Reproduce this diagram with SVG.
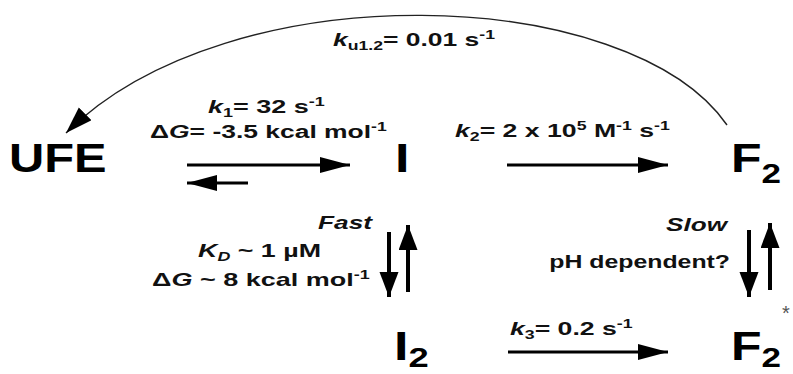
<svg xmlns="http://www.w3.org/2000/svg" width="793" height="374" viewBox="0 0 793 374">
<style>
.s{font-family:"Liberation Sans",Arial,sans-serif;font-weight:bold;font-size:18px;fill:#111}
.b{font-family:"Liberation Sans",Arial,sans-serif;font-weight:bold;font-size:40px;fill:#000}
.i{font-style:italic}
.ln{stroke:#000;stroke-width:3;fill:none}
.lv{stroke:#000;stroke-width:4;fill:none}
.arc{stroke:#222;stroke-width:1.4;fill:none}
</style>
<defs>
<marker id="ah" markerUnits="userSpaceOnUse" markerWidth="32" markerHeight="18" refX="30" refY="8" orient="auto"><path d="M0,0 L30,8 L0,16 z" fill="#000"/></marker>
<marker id="av" markerUnits="userSpaceOnUse" markerWidth="27" markerHeight="20" refX="25" refY="9.5" orient="auto"><path d="M0,0 L25,9.5 L0,19 z" fill="#000"/></marker>
<marker id="aa" markerUnits="userSpaceOnUse" markerWidth="30" markerHeight="20" refX="27" refY="9" orient="auto"><path d="M0,0 L27,9 L0,18 z" fill="#000"/></marker>
</defs>
<g id="connectors">
<path class="arc" d="M727,125 C630,-15 230,-30 66,133" marker-end="url(#aa)"/>
<line class="ln" x1="187" y1="165" x2="350" y2="165" marker-end="url(#ah)"/>
<line class="ln" x1="248" y1="183" x2="187" y2="183" marker-end="url(#ah)"/>
<line class="ln" x1="507" y1="165" x2="668" y2="165" marker-end="url(#ah)"/>
<line class="ln" x1="508" y1="352" x2="668" y2="352" marker-end="url(#ah)"/>
<line class="lv" x1="389" y1="232" x2="389" y2="297" marker-end="url(#av)"/>
<line class="lv" x1="408" y1="292" x2="408" y2="225" marker-end="url(#av)"/>
<line class="lv" x1="749" y1="230" x2="749" y2="297" marker-end="url(#av)"/>
<line class="lv" x1="770" y1="290" x2="770" y2="223" marker-end="url(#av)"/>
</g>
<g id="labels">
<text class="s" transform="translate(333,46) scale(1.47,1)"><tspan class="i">k</tspan><tspan font-size="12" dy="4">u1.2</tspan><tspan dy="-4">= 0.01 s</tspan><tspan font-size="12" dy="-7">-1</tspan></text>
<text class="s" transform="translate(208,113) scale(1.5,1)"><tspan class="i">k</tspan><tspan font-size="12" dy="4">1</tspan><tspan dy="-4">= 32 s</tspan><tspan font-size="12" dy="-7">-1</tspan></text>
<text class="s" transform="translate(150,138) scale(1.47,1)">Δ<tspan class="i">G</tspan>= -3.5 kcal mol<tspan font-size="12" dy="-7">-1</tspan></text>
<text class="s" transform="translate(455,137) scale(1.48,1)"><tspan class="i">k</tspan><tspan font-size="12" dy="4">2</tspan><tspan dy="-4">= 2 x 10</tspan><tspan font-size="12" dy="-7">5</tspan><tspan dy="7"> M</tspan><tspan font-size="12" dy="-7">-1</tspan><tspan dy="7"> s</tspan><tspan font-size="12" dy="-7">-1</tspan></text>
<text class="s i" transform="translate(372,229) scale(1.46,1)" text-anchor="end">Fast</text>
<text class="s" transform="translate(198,257) scale(1.49,1)"><tspan class="i">K</tspan><tspan class="i" font-size="12" dy="4">D</tspan><tspan dy="-4"> ~ 1 µM</tspan></text>
<text class="s" transform="translate(152,286) scale(1.5,1)">Δ<tspan class="i">G</tspan> ~ 8 kcal mol<tspan font-size="12" dy="-7">-1</tspan></text>
<text class="s i" transform="translate(727,231) scale(1.45,1)" text-anchor="end">Slow</text>
<text class="s" transform="translate(730,268) scale(1.38,1)" text-anchor="end">pH dependent?</text>
<text class="s" transform="translate(510,335) scale(1.48,1)"><tspan class="i">k</tspan><tspan font-size="12" dy="4">3</tspan><tspan dy="-4">= 0.2 s</tspan><tspan font-size="12" dy="-7">-1</tspan></text>
</g>
<g id="UFE"><text class="b" transform="translate(9,172) scale(1.22,1)">UFE</text></g>
<g id="I"><text class="b" transform="translate(395,172) scale(1.3,1)">I</text></g>
<g id="F2"><text class="b" transform="translate(731,172) scale(1.25,1)">F<tspan font-size="28" dy="11">2</tspan></text></g>
<g id="I2"><text class="b" transform="translate(394,360) scale(1.3,1)">I<tspan font-size="28" dy="7">2</tspan></text></g>
<g id="F2star"><text class="b" transform="translate(731,360) scale(1.25,1)">F<tspan font-size="28" dy="7">2</tspan></text><text x="782" y="320" font-family="Liberation Sans, Arial, sans-serif" font-size="20" fill="#555">*</text></g>
</svg>
